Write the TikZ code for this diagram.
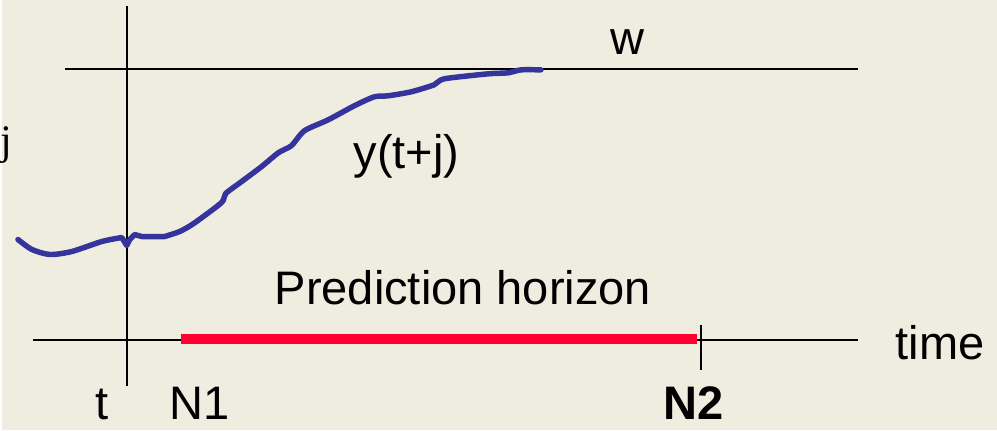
\documentclass[tikz,border=0pt]{standalone}
\usepackage{fontspec}
\setmainfont{Liberation Sans}
\newfontfamily\serifj{Liberation Serif}
\definecolor{paper}{RGB}{238,237,224}
\definecolor{curveblue}{RGB}{52,52,156}
\definecolor{horizonred}{RGB}{255,0,48}

\begin{document}
\begin{tikzpicture}[x=0.025cm, y=-0.025cm, every node/.style={font=\fontsize{33.5}{40}\selectfont, inner sep=0pt}]
    % Background
    \fill[paper] (0,0) rectangle (997,431);

    % Axes
    \coordinate (ytop) at (125,6);
    \coordinate (ybot) at (125,387);
    \coordinate (tleft) at (31,341);
    \coordinate (tright) at (858,341);
    \coordinate (wleft) at (63,69);
    \coordinate (wright) at (858,69);
    \draw[line width=1.4pt] (ytop) -- (ybot);
    \draw[line width=1.4pt] (tleft) -- (tright);
    \draw[line width=1.4pt] (wleft) -- (wright);

    % Prediction horizon
    \coordinate (hstart) at (179,340);
    \coordinate (hend) at (696,340);
    \draw[line width=7pt, horizonred] (hstart) -- (hend);
    \coordinate (ticktop) at (700,326);
    \coordinate (tickbot) at (700,371);
    \draw[line width=1.4pt] (ticktop) -- (tickbot);

    % Output y(t+j)
    \draw[line width=3.9pt, curveblue, line join=round, line cap=round]
        plot[smooth, tension=0.45] coordinates {(16,240) (30,250) (48,255) (70,252) (100,242) (120,238)}
        -- (125,246) -- (128,240) -- (133,235) -- (140,237) -- (163,237)
        plot[smooth, tension=0.4] coordinates {(163,237) (178,232) (192,224) (220,203) (224,194) (240,182) (260,167) (277,153) (290,146) (303,131) (327,120) (353,106) (373,97) (387,96) (410,92) (433,85) (443,79) (487,74) (507,73) (520,70) (540,70)};

    % Labels
    \node[anchor=base west] (wlabel) at (609,55) {w};
    \node[anchor=base west] (ylabel) at (352,169) {y(t+j)};
    \node[anchor=base west] (horizon) at (273,305) {Prediction horizon};
    \node[anchor=base west] (timelabel) at (895,360) {time};
    \node[anchor=base west] (tlabel) at (93,420) {t};
    \node[anchor=base west] (nonelabel) at (168,420) {N1};
    \node[anchor=base west] (ntwolabel) at (663,420) {\bfseries N2};
    \node[anchor=base east, font=\serifj\fontsize{30}{36}\selectfont] (jlabel) at (10,155) {j};
\end{tikzpicture}
\end{document}
